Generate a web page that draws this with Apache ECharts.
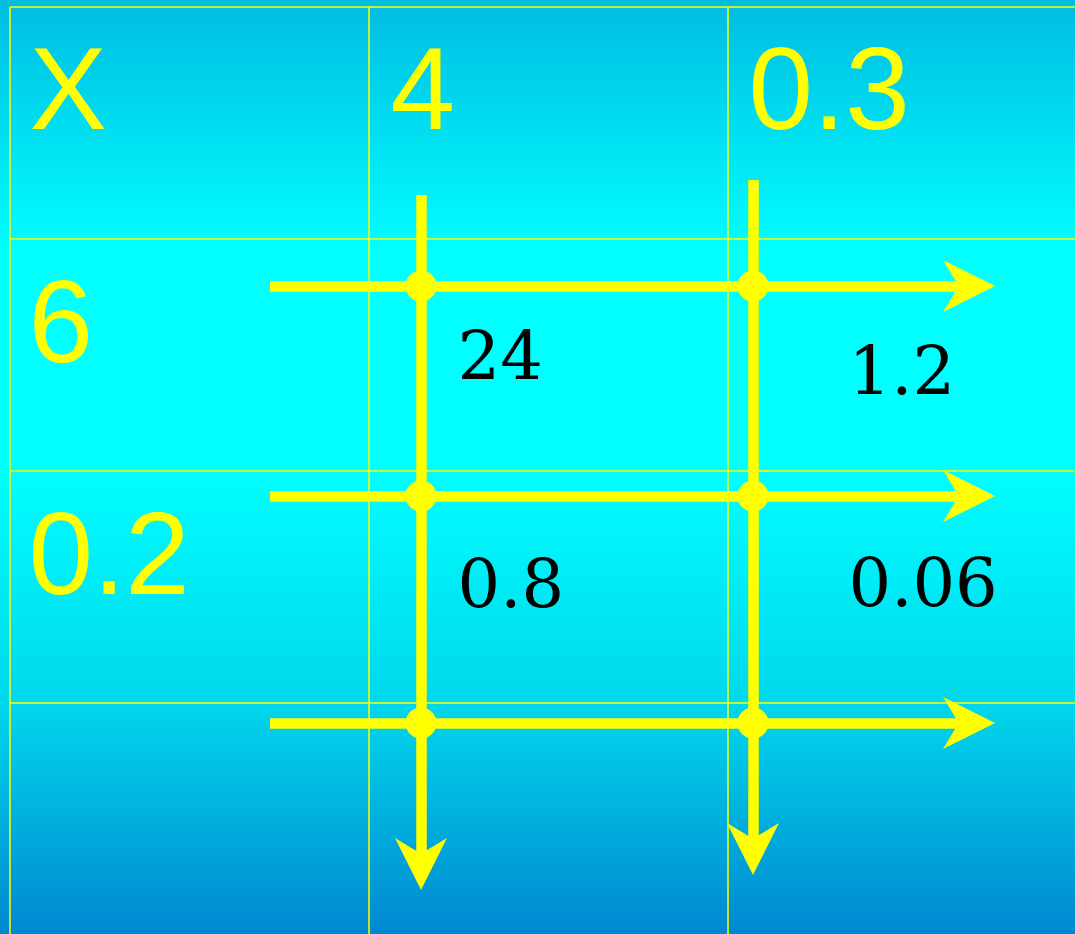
<!DOCTYPE html>
<html>
<head>
<meta charset="utf-8">
<title>X table</title>
<script src="https://cdn.jsdelivr.net/npm/echarts@6/dist/echarts.min.js"></script>
<style>
  html, body { margin: 0; padding: 0; }
  #chart { width: 1075px; height: 934px; }
</style>
</head>
<body>
<div id="chart"></div>
<script>
  // values in the table
  var cornerLabel = 'X';
  var colFactors = [4, 0.3];
  var rowFactors = [6, 0.2];
  var products = [
    [24, 1.2],
    [0.8, 0.06]
  ];

  // layout, in px from the top-left corner of the table (10, 7)
  var cellW = 359, cellH = 232;
  var colLineX = [411, 743];        // thick vertical lines
  var rowLineY = [279, 489, 716];   // thick horizontal lines
  var hLineFrom = 260, hLineTo = 959;
  var vLineFrom = [188, 173], vLineTo = [857, 842];
  var headerY = 91, cornerX = 20;
  var colLabelX = [381, 739];
  var rowLabelX = 19, rowLabelY = [324, 556];
  var productX = [448, 839];
  var productY = [[355, 370], [583, 582]];

  var yellow = '#ffff00';
  var arrowPath = 'path://M26,0 L52,53 L26,37 L0,53 Z';

  var arrows = [];
  rowLineY.forEach(function (y) {
    arrows.push({ coords: [[hLineFrom, y], [hLineTo, y]] });
  });
  colLineX.forEach(function (x, i) {
    arrows.push({ coords: [[x, vLineFrom[i]], [x, vLineTo[i]]] });
  });

  var dots = [];
  rowLineY.forEach(function (y) {
    colLineX.forEach(function (x) { dots.push([x, y]); });
  });

  var headers = [{ value: [cornerX, headerY], name: cornerLabel }];
  colFactors.forEach(function (v, i) {
    headers.push({ value: [colLabelX[i], headerY], name: String(v) });
  });
  rowFactors.forEach(function (v, i) {
    headers.push({ value: [rowLabelX, rowLabelY[i]], name: String(v) });
  });

  var cells = [];
  products.forEach(function (row, r) {
    row.forEach(function (v, c) {
      cells.push({ value: [productX[c], productY[r][c]], name: String(v) });
    });
  });

  var chart = echarts.init(document.getElementById('chart'));
  chart.setOption({
    backgroundColor: new echarts.graphic.LinearGradient(0, 0, 0, 1, [
      { offset: 0, color: '#00bce2' },
      { offset: 0.27, color: '#00ffff' },
      { offset: 0.5, color: '#00ffff' },
      { offset: 0.75, color: '#00d8ec' },
      { offset: 1, color: '#0088d0' }
    ]),
    animation: false,
    grid: { left: 10, top: 7, right: 0, bottom: 0 },
    xAxis: {
      type: 'value', min: 0, max: 1065, interval: cellW,
      axisLine: { show: false }, axisTick: { show: false }, axisLabel: { show: false },
      splitLine: { show: true, showMinLine: true, showMaxLine: false, lineStyle: { color: yellow, width: 1.5 } }
    },
    yAxis: {
      type: 'value', min: 0, max: 927, interval: cellH, inverse: true,
      axisLine: { show: false }, axisTick: { show: false }, axisLabel: { show: false },
      splitLine: { show: true, showMinLine: true, showMaxLine: false, lineStyle: { color: yellow, width: 1.5 } }
    },
    series: [
      {
        type: 'lines',
        coordinateSystem: 'cartesian2d',
        data: arrows,
        symbol: ['none', arrowPath],
        symbolSize: 52,
        lineStyle: { color: yellow, width: 10.5, opacity: 1 },
        itemStyle: { color: yellow },
        z: 3
      },
      {
        type: 'scatter',
        data: dots,
        symbol: 'circle',
        symbolSize: 31,
        itemStyle: { color: yellow, opacity: 1 },
        z: 4
      },
      {
        type: 'scatter',
        data: headers,
        symbolSize: 1,
        itemStyle: { color: 'rgba(0,0,0,0)', opacity: 1 },
        label: {
          show: true, position: [0, 0], align: 'left', verticalAlign: 'middle',
          formatter: '{b}', color: yellow, opacity: 1, fontSize: 116,
          fontFamily: '"Liberation Sans", Arial, sans-serif'
        },
        z: 5
      },
      {
        type: 'scatter',
        data: cells,
        symbolSize: 1,
        itemStyle: { color: 'rgba(0,0,0,0)', opacity: 1 },
        label: {
          show: true, position: [0, 0], align: 'left', verticalAlign: 'middle',
          formatter: '{b}', color: '#000000', opacity: 1, fontSize: 67,
          fontFamily: '"DejaVu Serif", serif'
        },
        z: 5
      }
    ]
  });
</script>
</body>
</html>
